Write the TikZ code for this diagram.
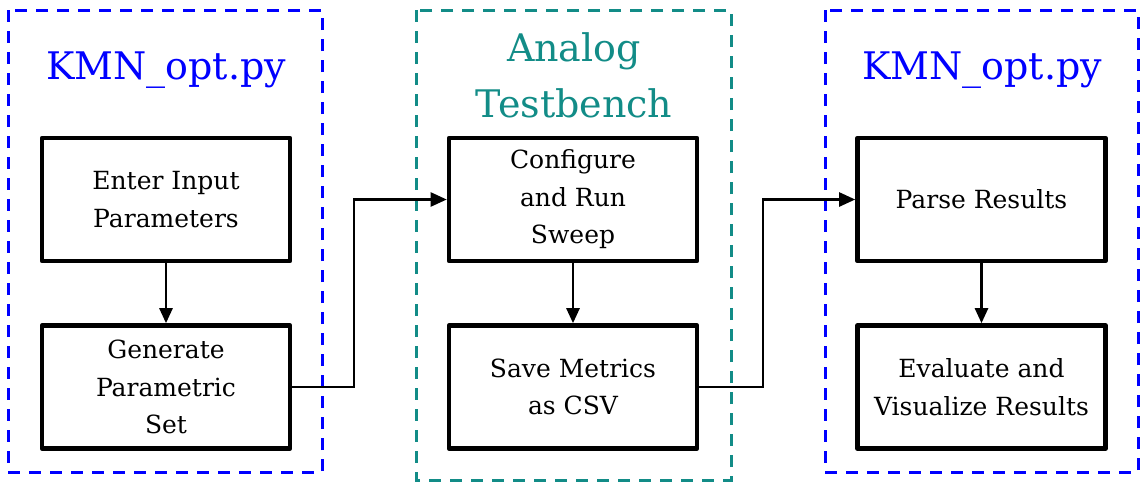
\documentclass[tikz,border=0pt]{standalone}
\usepackage{fontspec}
\setmainfont{DejaVu Serif}
\usetikzlibrary{arrows.meta}
\definecolor{tealc}{RGB}{18,140,135}
\begin{document}
\begin{tikzpicture}[x=0.5pt,y=-0.5pt,
  stepbox/.style={draw=black,line width=2.3pt,line join=round,minimum width=124pt,minimum height=61.5pt,align=center,inner sep=0pt,
    font=\fontsize{12.5pt}{18.75pt}\selectfont},
  group/.style={dash pattern=on 6pt off 4.5pt,line width=1.5pt},
  title/.style={align=center,font=\fontsize{19pt}{28pt}\selectfont},
  conn/.style={line width=1.2pt,-{Triangle[length=8pt,width=7pt]}},
  vconn/.style={line width=1.3pt,-{Triangle[length=7.5pt,width=6.5pt]}}]
\useasboundingbox (0,0) rectangle (1141,483);
% groups
\draw[group,blue] (8,10) rectangle (322,472);
\draw[group,tealc] (416,10) rectangle (731,480);
\draw[group,blue] (825,10) rectangle (1138,472);
% titles
\node[title,text=blue] (t1) at (166,70) {KMN\_opt.py};
\node[title,text=tealc] (t2) at (574,75) {Analog\\Testbench};
\node[title,text=blue] (t3) at (982,70) {KMN\_opt.py};
% boxes
\node[stepbox] (a1) at (166,199.5) {Enter Input\\Parameters};
\node[stepbox] (a2) at (166,387) {Generate\\Parametric\\Set};
\node[stepbox] (b1) at (573,199.5) {Configure\\and Run\\Sweep};
\node[stepbox] (b2) at (573,387) {Save Metrics\\as CSV};
\node[stepbox] (c1) at (981.5,199.5) {Parse Results};
\node[stepbox] (c2) at (981.5,387) {Evaluate and\\Visualize Results};
% connectors
\draw[vconn] (a1) -- (a2);
\draw[vconn] (b1) -- (b2);
\draw[vconn] (c1) -- (c2);
\coordinate (m1) at (354,387);
\coordinate (m2) at (354,199.5);
\coordinate (n1) at (763,387);
\coordinate (n2) at (763,199.5);
\draw[conn] (a2.east) -- (m1) -- (m2) -- (b1.west);
\draw[conn] (b2.east) -- (n1) -- (n2) -- (c1.west);
\end{tikzpicture}
\end{document}
